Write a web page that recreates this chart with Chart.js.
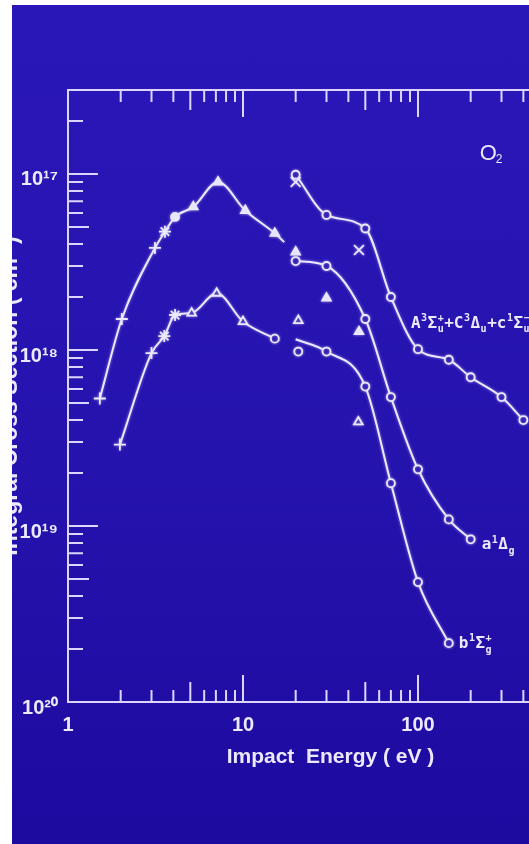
<!DOCTYPE html>
<html>
<head>
<meta charset="utf-8">
<script src="https://cdn.jsdelivr.net/npm/chart.js@4.4.0/dist/chart.umd.min.js"></script>
<style>
  html, body { margin: 0; padding: 0; background: #fff; overflow: hidden; }
  #slide {
    position: absolute; left: 12px; top: 5px; width: 640px; height: 839px;
    background: linear-gradient(180deg, #2a17b8 0%, #2513ae 55%, #1d0a9f 100%);
  }
  canvas { display: block; }
</style>
</head>
<body>
<div id="slide"><canvas id="chart" width="640" height="839"></canvas></div>
<script>
// low energy humps (swarm / other data), marks: cross, star, dot, tri, otri, ring, x
const upperHumpEnergy = [1.52, 2.03, 3.14, 3.58, 4.09, 5.2, 7.2, 10.3, 15.2, 17.2];
const upperHumpSigma  = [5.3e-19, 1.5e-18, 3.8e-18, 4.7e-18, 5.7e-18, 6.5e-18, 9.0e-18, 6.2e-18, 4.6e-18, 4.1e-18];
const upperHumpMarks  = ['cross', 'cross', 'cross', 'star', 'dot', 'tri', 'tri', 'tri', 'tri', ''];

const lowerHumpEnergy = [1.98, 3.0, 3.55, 4.09, 5.09, 7.07, 10.0, 15.2];
const lowerHumpSigma  = [2.9e-19, 9.6e-19, 1.2e-18, 1.58e-18, 1.62e-18, 2.1e-18, 1.45e-18, 1.16e-18];
const lowerHumpMarks  = ['cross', 'cross', 'star', 'star', 'otri', 'otri', 'otri', 'ring'];

// higher energy curves
const highEnergy = [20, 30, 50, 70, 100, 150, 200, 300, 400];
const sigmaA     = [9.9e-18, 5.85e-18, 4.9e-18, 2.0e-18, 1.01e-18, 8.8e-19, 7.0e-19, 5.4e-19, 4.0e-19];
const sigmaDelta = [3.2e-18, 3.0e-18, 1.5e-18, 5.4e-19, 2.1e-19, 1.09e-19, 8.4e-20];
const sigmaB     = [1.15e-18, 9.8e-19, 6.2e-19, 1.75e-19, 4.8e-20, 2.16e-20];
const marksA     = ['ring', 'ring', 'ring', 'ring', 'ring', 'ring', 'ring', 'ring', 'ring'];
const marksDelta = ['ring', 'ring', 'ring', 'ring', 'ring', 'ring', 'ring'];
const marksB     = ['', 'ring', 'ring', 'ring', 'ring', 'ring'];

// loose points not on a curve
const extraEnergy = [20, 46, 20, 30, 46, 20.7, 45.6, 20.7];
const extraSigma  = [9.0e-18, 3.7e-18, 3.6e-18, 1.97e-18, 1.27e-18, 1.47e-18, 3.9e-19, 9.8e-19];
const extraMarks  = ['x', 'x', 'tri', 'tri', 'tri', 'otri', 'otri', 'ring'];

const xTickValues = [1, 10, 100, 1000];
const xTickLabels = ['1', '10', '100', '1000'];
const yTickValues = [1e-20, 1e-19, 1e-18, 1e-17];
const yTickLabels = ['10²⁰', '10¹⁹', '10¹⁸', '10¹⁷'];

const INK = '#ece9ff';
const AXIS = '#dcd6ff';
const BLUE = '#2613ad';
const FONT = '"Liberation Sans", Arial, sans-serif';
const MONO = '"DejaVu Sans Mono", monospace';

const markStyle = {
  cross: { style: 'cross', r: 6, filled: false },
  star:  { style: 'star', r: 6, filled: false },
  dot:   { style: 'circle', r: 4, filled: true },
  tri:   { style: 'triangle', r: 5, filled: true },
  otri:  { style: 'triangle', r: 5, filled: false },
  ring:  { style: 'circle', r: 4, filled: false },
  x:     { style: 'crossRot', r: 7, filled: false }
};

function curve(energy, sigma, marks, showLine) {
  return {
    data: energy.map((e, i) => ({ x: e, y: sigma[i] })),
    showLine: showLine,
    borderColor: INK,
    borderWidth: 2,
    cubicInterpolationMode: 'monotone',
    pointStyle: marks.map(m => m ? markStyle[m].style : 'circle'),
    pointRadius: marks.map(m => m ? markStyle[m].r : 0),
    pointBorderColor: INK,
    pointBorderWidth: 1.8,
    pointBackgroundColor: marks.map(m => m && markStyle[m].filled ? INK : BLUE)
  };
}

// text with super/subscripts, parts are strings or {sup, sub}
function drawRich(ctx, x, y, parts, size, family) {
  ctx.textAlign = 'left';
  ctx.textBaseline = 'alphabetic';
  parts.forEach(p => {
    if (typeof p === 'string') {
      ctx.font = `bold ${size}px ${family}`;
      ctx.fillText(p, x, y);
      x += ctx.measureText(p).width;
    } else {
      ctx.font = `bold ${Math.round(size * 0.62)}px ${family}`;
      let w = 0;
      if (p.sup) { ctx.fillText(p.sup, x + 0.5, y - size * 0.42); w = ctx.measureText(p.sup).width; }
      if (p.sub) { ctx.fillText(p.sub, x + 0.5, y + size * 0.28); w = Math.max(w, ctx.measureText(p.sub).width); }
      x += w + 1;
    }
  });
}

// frame with inward tick marks on all four sides
const framePlugin = {
  id: 'frame',
  beforeDatasetsDraw(chart) {
    const { ctx, chartArea: a, scales: { x, y } } = chart;
    ctx.save();
    ctx.strokeStyle = AXIS;
    ctx.lineWidth = 2;
    ctx.strokeRect(a.left, a.top, a.right - a.left, a.bottom - a.top);
    ctx.beginPath();
    for (let d = 1; d <= 100; d *= 10) {
      for (let m = 1; m <= 9; m++) {
        const px = x.getPixelForValue(m * d);
        const len = m === 1 ? 27 : (m === 5 ? 20 : 12);
        ctx.moveTo(px, a.bottom); ctx.lineTo(px, a.bottom - len);
        ctx.moveTo(px, a.top); ctx.lineTo(px, a.top + len);
      }
    }
    for (let d = 1e-20; d < 3e-17; d *= 10) {
      for (let m = 1; m <= 9; m++) {
        if (m * d > 2.95e-17) break;
        const py = y.getPixelForValue(m * d);
        const len = m === 1 ? 30 : (m === 5 ? 21 : 15);
        ctx.moveTo(a.left, py); ctx.lineTo(a.left + len, py);
        ctx.moveTo(a.right, py); ctx.lineTo(a.right - len, py);
      }
    }
    ctx.stroke();
    ctx.restore();
    // soft glow like the projected slide
    ctx.save();
    ctx.shadowColor = 'rgba(215, 210, 255, 0.6)';
    ctx.shadowBlur = 3;
  },
  afterDatasetsDraw(chart) {
    chart.ctx.restore();
  },
  afterDraw(chart) {
    const { ctx, scales: { x, y } } = chart;
    ctx.save();
    ctx.fillStyle = INK;
    const metaA = chart.getDatasetMeta(2).data;
    const metaD = chart.getDatasetMeta(3).data;
    const metaB = chart.getDatasetMeta(4).data;
    const pA = metaA[3], pD = metaD[metaD.length - 1], pB = metaB[metaB.length - 1];
    drawRich(ctx, pA.x + 20, pA.y + 31,
      ['A', { sup: '3' }, 'Σ', { sub: 'u', sup: '+' }, '+C', { sup: '3' }, 'Δ', { sub: 'u' },
       '+c', { sup: '1' }, 'Σ', { sub: 'u', sup: '−' }], 16, MONO);
    drawRich(ctx, pD.x + 11, pD.y + 10, ['a', { sup: '1' }, 'Δ', { sub: 'g' }], 16, MONO);
    drawRich(ctx, pB.x + 10, pB.y + 5, ['b', { sup: '1' }, 'Σ', { sub: 'g', sup: '+' }], 16, MONO);
    ctx.font = `22px ${FONT}`;
    ctx.textBaseline = 'alphabetic';
    const ox = x.getPixelForValue(225), oy = y.getPixelForValue(1.2e-17);
    ctx.fillText('O', ox, oy);
    ctx.font = `12px ${FONT}`;
    ctx.fillText('2', ox + 16, oy + 3);
    ctx.restore();
  }
};

const ctx = document.getElementById('chart');
new Chart(ctx, {
  type: 'line',
  data: {
    datasets: [
      curve(upperHumpEnergy, upperHumpSigma, upperHumpMarks, true),
      curve(lowerHumpEnergy, lowerHumpSigma, lowerHumpMarks, true),
      curve(highEnergy, sigmaA, marksA, true),
      curve(highEnergy.slice(0, sigmaDelta.length), sigmaDelta, marksDelta, true),
      curve(highEnergy.slice(0, sigmaB.length), sigmaB, marksB, true),
      curve(extraEnergy, extraSigma, extraMarks, false)
    ]
  },
  plugins: [framePlugin],
  options: {
    responsive: false,
    animation: false,
    layout: { padding: { left: 0, top: 85, right: 59, bottom: 72 } },
    plugins: { legend: { display: false }, tooltip: { enabled: false } },
    scales: {
      x: {
        type: 'logarithmic',
        min: 1,
        max: 1000,
        grid: { display: false, drawTicks: false },
        border: { display: false },
        afterBuildTicks: s => { s.ticks = xTickValues.map(v => ({ value: v })); },
        afterFit: s => { s.height = 70; },
        ticks: {
          autoSkip: false, maxRotation: 0, padding: 11, color: INK,
          font: { family: FONT, size: 20, weight: 'bold' },
          callback: v => xTickLabels[xTickValues.indexOf(v)]
        },
        title: {
          display: true, text: 'Impact  Energy ( eV )', color: INK,
          font: { family: FONT, size: 21, weight: 'bold' },
          padding: { top: 0, bottom: 2 }
        }
      },
      y: {
        type: 'logarithmic',
        min: 1e-20,
        max: 3e-17,
        grid: { display: false, drawTicks: false },
        border: { display: false },
        afterBuildTicks: s => { s.ticks = yTickValues.map(v => ({ value: v })); },
        afterFit: s => { s.width = 56; },
        ticks: {
          autoSkip: false, padding: 10, labelOffset: 6, color: INK,
          font: { family: FONT, size: 20, weight: 'bold' },
          callback: v => yTickLabels[yTickValues.indexOf(v)]
        },
        title: {
          display: true, text: 'Integral Cross Section ( cm² )', color: INK,
          font: { family: FONT, size: 23, weight: 'bold' },
          padding: { top: -15, bottom: 0 }
        }
      }
    }
  }
});
</script>
</body>
</html>
